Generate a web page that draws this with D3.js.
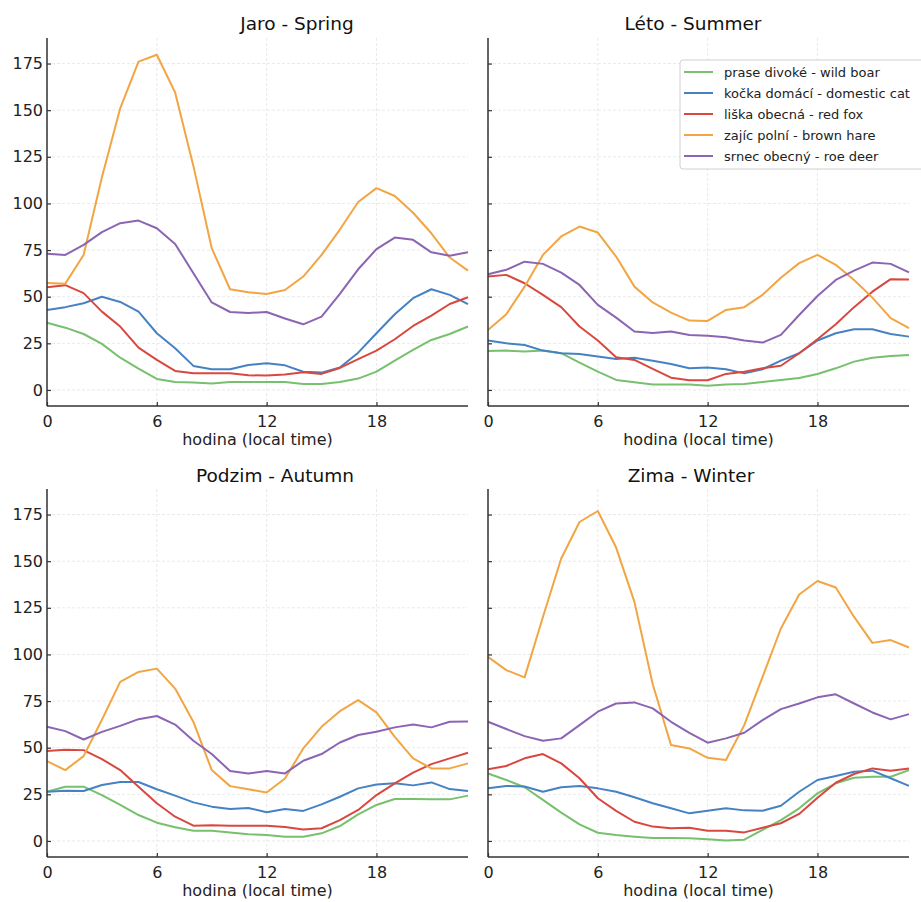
<!DOCTYPE html>
<html>
<head>
<meta charset="utf-8">
<script src="https://cdn.jsdelivr.net/npm/d3@7"></script>
<style>
  html, body { margin: 0; padding: 0; background: #fff; }
  svg { display: block; font-family: "DejaVu Sans", sans-serif; }
</style>
</head>
<body>
<svg id="chart" width="921" height="902"></svg>
<script>
// ---------- DATA ----------
const hours = [0,1,2,3,4,5,6,7,8,9,10,11,12,13,14,15,16,17,18,19,20,21,22,23];
const xTicks = [0, 6, 12, 18];
const yTicks = [0, 25, 50, 75, 100, 125, 150, 175];
const xLabel = "hodina (local time)";

const speciesNames = [
  "prase divoké - wild boar",
  "kočka domácí - domestic cat",
  "liška obecná - red fox",
  "zajíc polní - brown hare",
  "srnec obecný - roe deer"
];
const speciesColors = ["#76c06e", "#4582c4", "#d9483f", "#f2a543", "#8b65b3"];

const seasonTitles = ["Jaro - Spring", "Léto - Summer", "Podzim - Autumn", "Zima - Winter"];

// Spring
const springBoar = [36,33.4,30,24.7,17.3,11.4,5.9,4.3,4,3.4,4.3,4.3,4.3,4.3,3.2,3.2,4.3,6.1,9.8,15.7,21.5,26.8,30,34];
const springCat  = [42.9,44.4,46.5,50,47.2,42,30.4,22.4,12.9,11.1,11.1,13.4,14.3,13.2,9.8,9.3,12,20,30.4,40.6,49.2,54,51,46];
const springFox  = [55.1,56.2,51.9,42,34,22.7,16.1,10.2,8.9,8.9,8.9,7.9,7.7,8.3,9.5,8.6,11.8,16.5,21.1,27.2,34.3,39.9,46.1,49.7];
const springHare = [57.4,57,72.4,114,151,176,179.7,159.5,120,76,54,52.4,51.5,53.6,60.8,72.4,86,100.8,108.2,104,95,84,71,64];
const springDeer = [73,72.4,77.8,84.6,89.4,90.8,86.7,78.3,62.6,46.9,41.8,41.3,41.8,38.3,35.2,39.3,51.5,64.7,75.5,81.7,80.5,73.8,72,73.8];

// Summer
const summerBoar = [20.9,21.1,20.6,21.1,19.7,14.7,9.8,5.4,4.1,2.9,2.9,2.9,2.3,2.9,3.2,4.3,5.4,6.4,8.6,11.6,15.2,17.3,18.2,18.8];
const summerCat  = [26.5,25,24.1,21.1,19.7,19.3,17.9,16.6,17.3,15.7,13.9,11.6,12,11.1,8.9,11.1,15.7,19.7,26.5,30.4,32.5,32.5,30,28.6];
const summerFox  = [60.8,61.7,57.2,51,44.4,34,26.5,17.5,16.1,11.3,6.6,5.2,5.2,8.6,9.8,11.6,13,19.7,27.2,35.2,44.4,52.7,59.4,59.2];
const summerHare = [32.2,40.6,55.4,72.4,82.3,87.6,84.4,71.5,55.4,46.9,41.5,37.2,37,42.9,44.4,51,60.2,68,72.4,67.1,59,49.5,38.5,33.1];
const summerDeer = [62,64.4,68.8,67.6,62.9,56.3,45.6,38.8,31.3,30.6,31.3,29.5,29,28.3,26.5,25.4,29.5,40.2,50.4,59,64,68.3,67.6,63];

// Autumn
const autumnBoar = [26.4,29.1,29.1,24.6,19.3,13.9,9.8,7.3,5.5,5.5,4.6,3.6,3.2,2.3,2.3,4.1,8,14.3,19.3,22.5,22.5,22.3,22.3,24.3];
const autumnCat  = [26.4,26.9,26.8,30,31.6,31.6,27.7,24.3,20.7,18.4,17.1,17.7,15.4,17.1,16.1,19.6,23.7,28.2,30.3,30.9,29.8,31.4,27.8,26.8];
const autumnFox  = [48.2,48.9,48.7,43.9,38,29.1,20.2,13,8.2,8.4,8.2,8.2,8.2,7.5,6.2,6.8,11.2,16.6,24.6,30.9,36.6,41.2,44.3,47.3];
const autumnHare = [42.8,38,45.5,65,85.3,90.6,92.4,81.7,63.8,38,29.4,27.7,26,33.5,49.6,61.2,69.6,75.5,68.9,55.8,44.3,38.9,38.9,41.6];
const autumnDeer = [61.2,58.9,54.4,58.5,61.7,65.3,67,62.4,53.7,46.6,37.5,36.2,37.5,36.2,43,46.6,52.8,56.8,58.5,60.9,62.4,60.9,63.9,64];

// Winter
const winterBoar = [36.2,32.7,28.8,22,15.2,8.9,4.4,3.2,2.3,1.6,1.6,1.4,0.9,0.2,0.7,5.9,11.2,17.5,25.5,30.9,33.9,34.4,34.4,38];
const winterCat  = [28.2,29.5,29.2,26.4,28.8,29.5,28.2,26.4,23.4,20.2,17.5,14.8,16.2,17.5,16.4,16.2,18.9,26.4,32.7,34.8,37.1,37.7,33.6,29.5];
const winterFox  = [38.4,40.2,44.3,46.6,41.6,33.6,22.9,16.1,10.3,7.7,6.8,7.1,5.5,5.5,4.6,7.1,9.5,14.5,23.2,31.2,35.9,38.9,37.7,38.9];
const winterHare = [98.7,91.6,87.7,120.1,151.4,171,176.9,157.3,128.2,84,51.4,49.6,44.6,43.4,62.1,88,113.9,132.1,139.4,135.9,120.1,106.2,107.7,103.7];
const winterDeer = [63.9,60,56.2,53.7,55,62.1,69.3,73.7,74.3,71.1,63.9,58,52.7,55,58,64.8,70.7,73.7,77,78.6,73.7,68.9,65.2,68];

const seasons = [
  [springBoar, springCat, springFox, springHare, springDeer],
  [summerBoar, summerCat, summerFox, summerHare, summerDeer],
  [autumnBoar, autumnCat, autumnFox, autumnHare, autumnDeer],
  [winterBoar, winterCat, winterFox, winterHare, winterDeer]
];

// ---------- LAYOUT ----------
const svg = d3.select("#chart");
const panelW = 421, panelH = 368;
const panels = [
  {x: 47,  y: 38,  showY: true,  titleX: 297, titleY: 30},
  {x: 488, y: 38,  showY: false, titleX: 693, titleY: 30},
  {x: 47,  y: 489, showY: true,  titleX: 275, titleY: 482},
  {x: 488, y: 489, showY: false, titleX: 691, titleY: 482}
];

const x = d3.scaleLinear().domain([0, 23]).range([0, panelW]);
const y = d3.scaleLinear().domain([-8.6, 188.7]).range([panelH, 0]);
const textColor = "#222";

panels.forEach((p, si) => {
  const g = svg.append("g").attr("transform", `translate(${p.x},${p.y})`);

  // grid
  g.append("g").selectAll("line.gx").data(xTicks).join("line")
    .attr("x1", d => x(d)).attr("x2", d => x(d))
    .attr("y1", 0).attr("y2", panelH)
    .attr("stroke", "#e3e3e3").attr("stroke-width", 0.8).attr("stroke-dasharray", "3,2");
  g.append("g").selectAll("line.gy").data(yTicks).join("line")
    .attr("x1", 0).attr("x2", panelW)
    .attr("y1", d => y(d)).attr("y2", d => y(d))
    .attr("stroke", "#e3e3e3").attr("stroke-width", 0.8).attr("stroke-dasharray", "3,2");

  // lines
  const line = d3.line().x((d, i) => x(hours[i])).y(d => y(d));
  seasons[si].forEach((vals, k) => {
    g.append("path").datum(vals)
      .attr("fill", "none")
      .attr("stroke", speciesColors[k])
      .attr("stroke-width", 2)
      .attr("stroke-linejoin", "round")
      .attr("d", line);
  });

  // axes
  const xAxis = d3.axisBottom(x).tickValues(xTicks).tickSize(-4).tickPadding(10);
  const yAxis = d3.axisLeft(y).tickValues(yTicks).tickSize(-4).tickPadding(4);
  if (!p.showY) yAxis.tickFormat("");

  const gx = g.append("g").attr("transform", `translate(0,${panelH})`).call(xAxis);
  const gy = g.append("g").call(yAxis);
  [gx, gy].forEach(a => {
    a.select(".domain").attr("stroke", "#333").attr("stroke-width", 1.5);
    a.selectAll(".tick line").attr("stroke", "#333").attr("stroke-width", 1.2);
    a.selectAll(".tick text").attr("fill", textColor)
      .style("font-family", "DejaVu Sans").style("font-size", "16px");
  });
  // remove outer tick ends on domain path
  gx.select(".domain").attr("d", `M0,0H${panelW}`);
  gy.select(".domain").attr("d", `M0,${panelH}V0`);

  // x label
  g.append("text")
    .attr("x", panelW / 2).attr("y", panelH + 39)
    .attr("text-anchor", "middle")
    .attr("fill", textColor)
    .style("font-size", "16px")
    .text(xLabel);

  // title
  svg.append("text")
    .attr("x", p.titleX).attr("y", p.titleY)
    .attr("text-anchor", "middle")
    .attr("fill", "#111")
    .style("font-size", "18.5px")
    .text(seasonTitles[si]);
});

// ---------- LEGEND (in summer panel) ----------
const lg = svg.append("g").attr("transform", "translate(680,60)");
lg.append("rect")
  .attr("x", 0).attr("y", 0).attr("width", 250).attr("height", 109)
  .attr("rx", 3).attr("ry", 3)
  .attr("fill", "#fff").attr("fill-opacity", 0.9)
  .attr("stroke", "#d0d0d0").attr("stroke-width", 1);
speciesNames.forEach((name, k) => {
  const cy = 12 + k * 21;
  lg.append("line")
    .attr("x1", 4).attr("x2", 33).attr("y1", cy).attr("y2", cy)
    .attr("stroke", speciesColors[k]).attr("stroke-width", 2);
  lg.append("text")
    .attr("x", 44).attr("y", cy).attr("dy", "0.35em")
    .attr("fill", textColor)
    .style("font-size", "13px")
    .text(name);
});
</script>
</body>
</html>
